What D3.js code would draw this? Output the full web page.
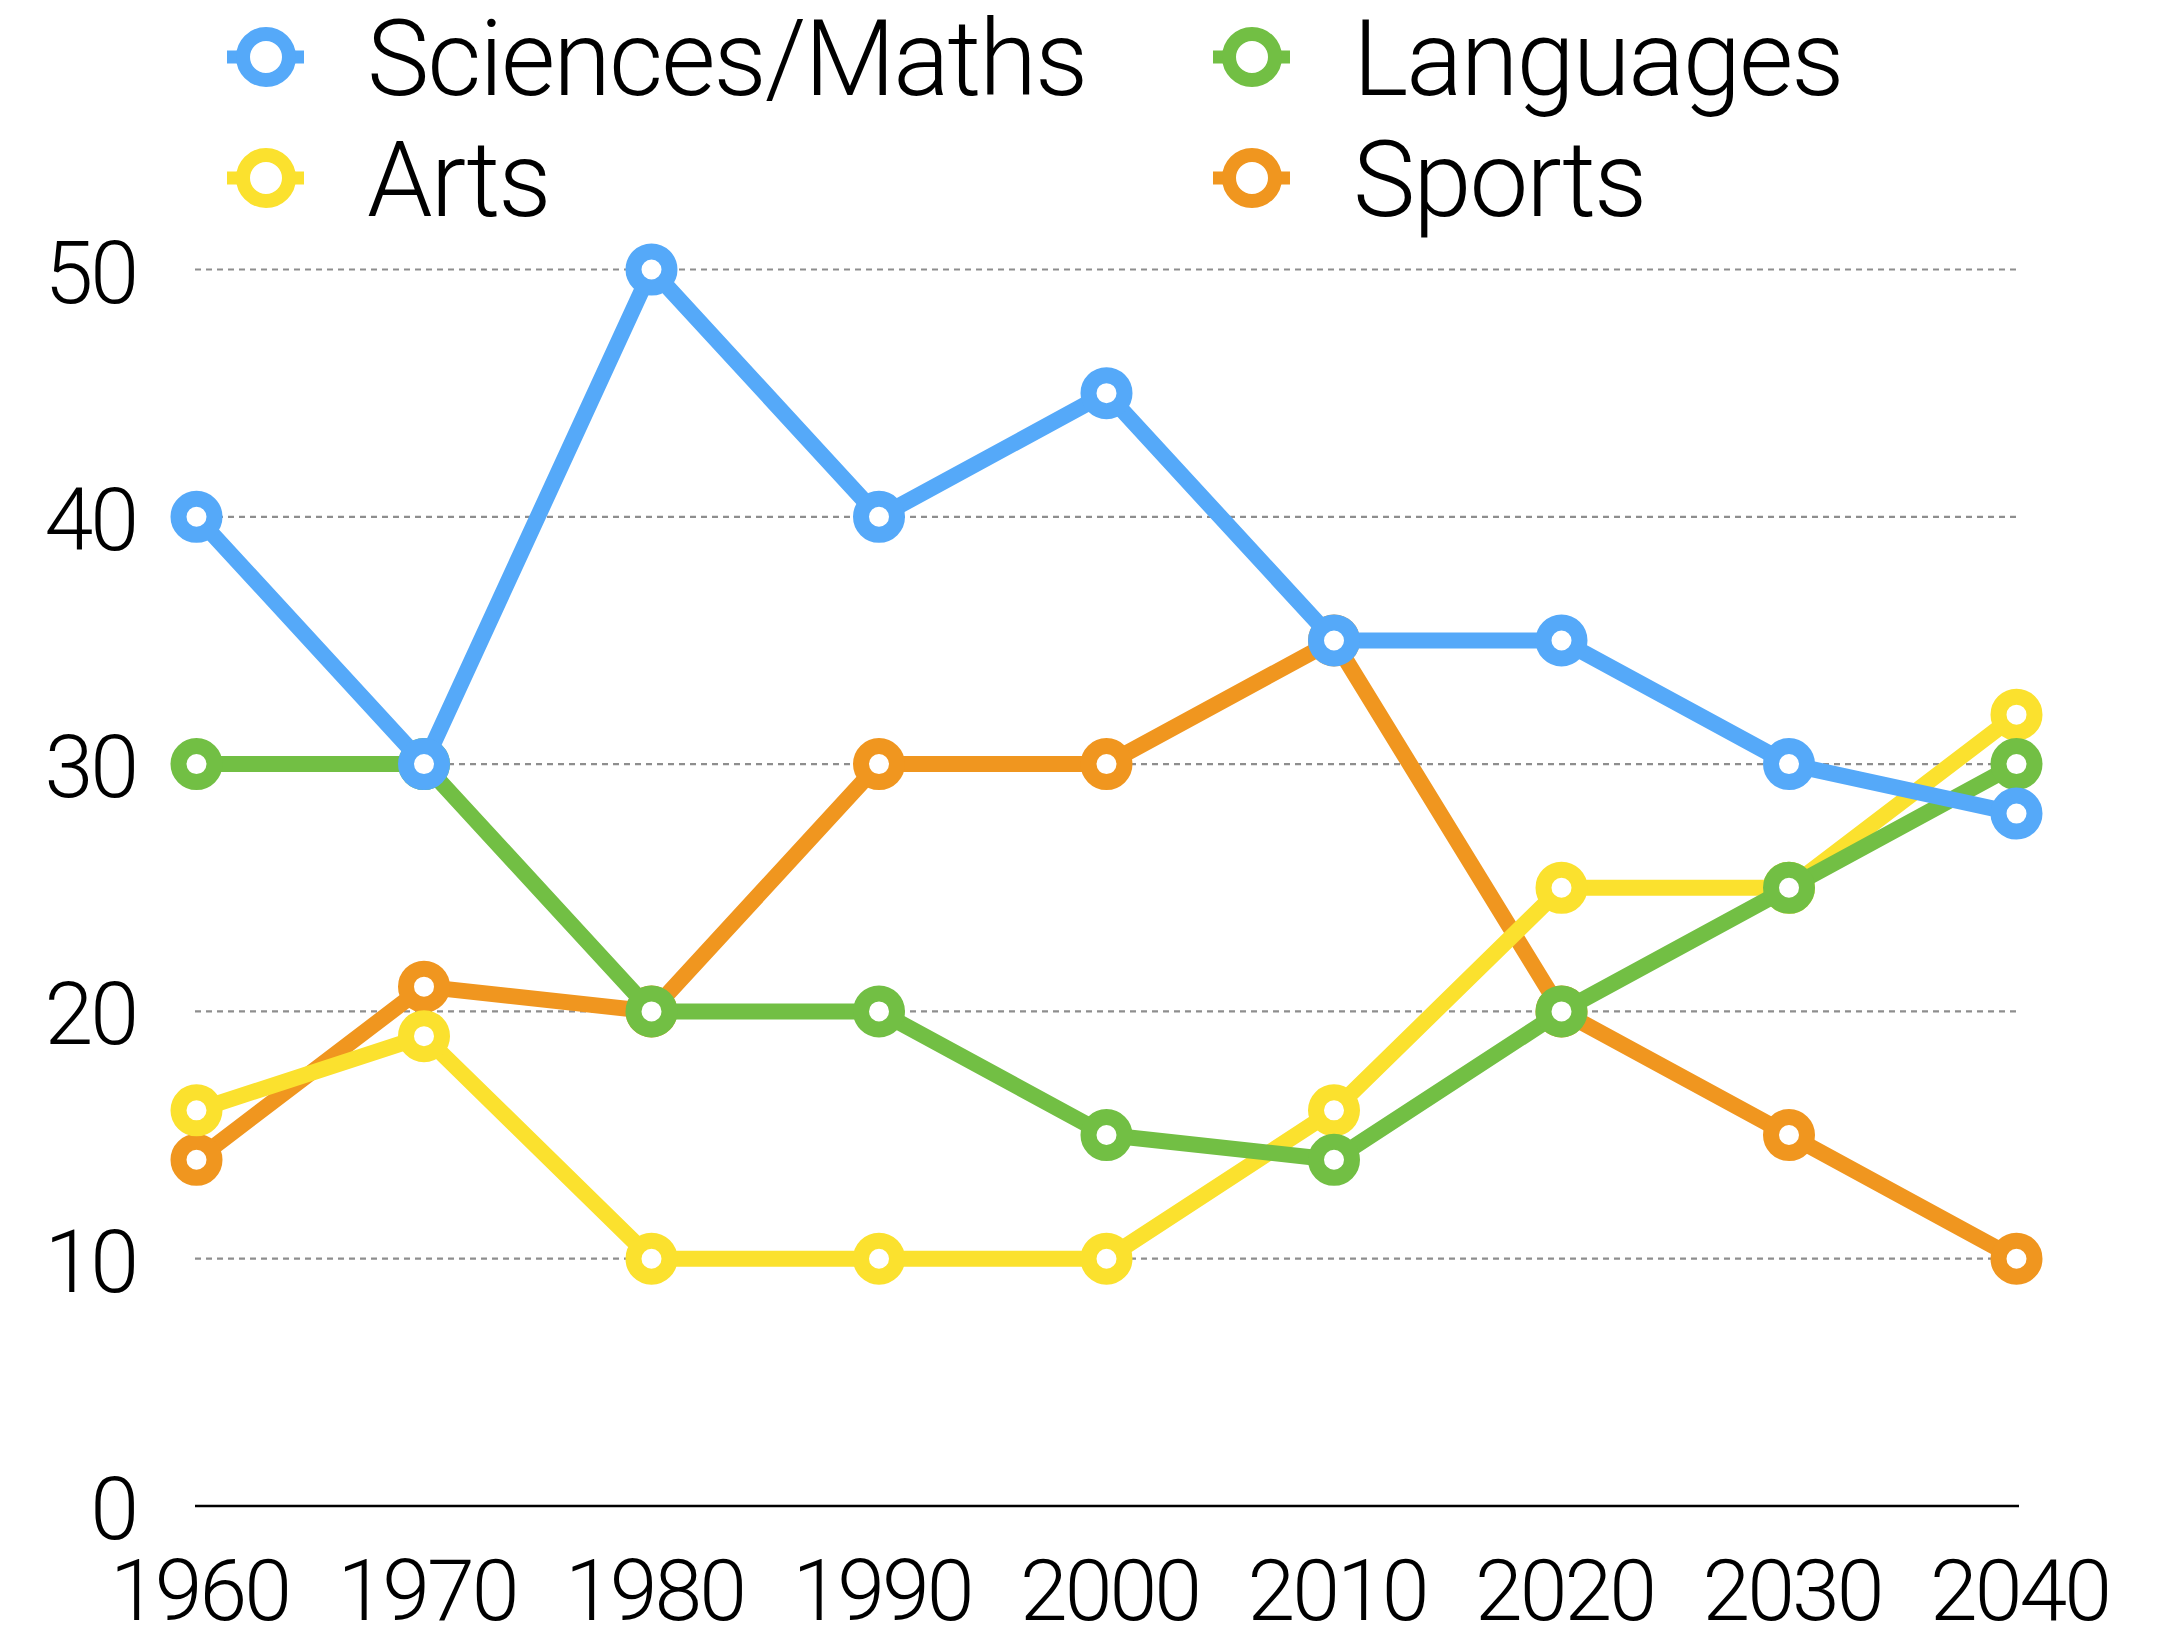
<!DOCTYPE html>
<html>
<head>
<meta charset="utf-8">
<script src="https://cdn.jsdelivr.net/npm/d3@7"></script>
<style>
  html, body { margin: 0; padding: 0; background: #fff; }
  svg { display: block; }
  text { font-family: Roboto, "Helvetica Neue", "Liberation Sans", sans-serif; font-weight: 300; fill: #000; }
</style>
</head>
<body>
<svg id="chart" width="2163" height="1629"></svg>
<script>
// Decades on the x axis
const years = [1960, 1970, 1980, 1990, 2000, 2010, 2020, 2030, 2040];
const yTicks = [0, 10, 20, 30, 40, 50];

// Series values, one per decade
const sciences  = [40, 30, 50, 40, 45, 35, 35, 30, 28];
const languages = [30, 30, 20, 20, 15, 14, 20, 25, 30];
const arts      = [16, 19, 10, 10, 10, 16, 25, 25, 32];
const sports    = [14, 21, 20, 30, 30, 35, 20, 15, 10];

const seriesNames  = ["Sciences/Maths", "Languages", "Arts", "Sports"];
const seriesColors = ["#55a9f9", "#72bf44", "#fbe12e", "#f0961f"];
const seriesValues = [sciences, languages, arts, sports];

const series = seriesNames.map((name, i) => ({ name, color: seriesColors[i], values: seriesValues[i] }));

const svg = d3.select("#chart");

const x = d3.scaleLinear().domain([1960, 2040]).range([196.5, 2016.5]);
const y = d3.scaleLinear().domain([0, 50]).range([1506, 269.5]);

// Dotted horizontal gridlines (not at zero)
svg.append("g")
  .selectAll("line")
  .data(yTicks.filter(d => d > 0))
  .join("line")
    .attr("x1", 195).attr("x2", 2017)
    .attr("y1", d => y(d)).attr("y2", d => y(d))
    .attr("stroke", "#8e8e8e")
    .attr("stroke-width", 2.2)
    .attr("stroke-dasharray", "6,5");

// Baseline
svg.append("line")
  .attr("x1", 195).attr("x2", 2019)
  .attr("y1", y(0)).attr("y2", y(0))
  .attr("stroke", "#000")
  .attr("stroke-width", 2.5);

// Y axis labels
svg.append("g")
  .selectAll("text")
  .data(yTicks)
  .join("text")
    .attr("x", 136)
    .attr("y", d => y(d) + 33)
    .attr("text-anchor", "end")
    .attr("font-size", 88)
    .attr("letter-spacing", "-3")
    .text(d => d);

// X axis labels
svg.append("g")
  .selectAll("text")
  .data(years)
  .join("text")
    .attr("x", d => x(d) + 3)
    .attr("y", 1620)
    .attr("text-anchor", "middle")
    .attr("font-size", 86)
    .attr("letter-spacing", "-3")
    .text(d => d);

// Lines and markers; first series drawn on top
const line = d3.line().x((d, i) => x(years[i])).y(d => y(d));

const groups = svg.append("g")
  .selectAll("g")
  .data(series.slice().reverse())
  .join("g");

groups.append("path")
  .attr("d", d => line(d.values))
  .attr("fill", "none")
  .attr("stroke", d => d.color)
  .attr("stroke-width", 16)
  .attr("stroke-linejoin", "round");

groups.selectAll("circle")
  .data(d => d.values.map((v, i) => ({ v, i, color: d.color })))
  .join("circle")
    .attr("cx", d => x(years[d.i]))
    .attr("cy", d => y(d.v))
    .attr("r", 18)
    .attr("fill", "#fff")
    .attr("stroke", d => d.color)
    .attr("stroke-width", 16);

// Legend: two columns, two rows
const legendPos = [
  { cx: 266, cy: 57 },
  { cx: 1252, cy: 57 },
  { cx: 266, cy: 178 },
  { cx: 1252, cy: 178 }
];

const legend = svg.append("g")
  .selectAll("g")
  .data(series)
  .join("g")
    .attr("transform", (d, i) => `translate(${legendPos[i].cx},${legendPos[i].cy})`);

legend.append("line")
  .attr("x1", -39).attr("x2", 38)
  .attr("y1", 0).attr("y2", 0)
  .attr("stroke", d => d.color)
  .attr("stroke-width", 13);

legend.append("circle")
  .attr("r", 23)
  .attr("fill", "#fff")
  .attr("stroke", d => d.color)
  .attr("stroke-width", 14);

legend.append("text")
  .attr("x", 101)
  .attr("y", 38)
  .attr("font-size", 105)
  .attr("letter-spacing", "-2")
  .text(d => d.name);
</script>
</body>
</html>
